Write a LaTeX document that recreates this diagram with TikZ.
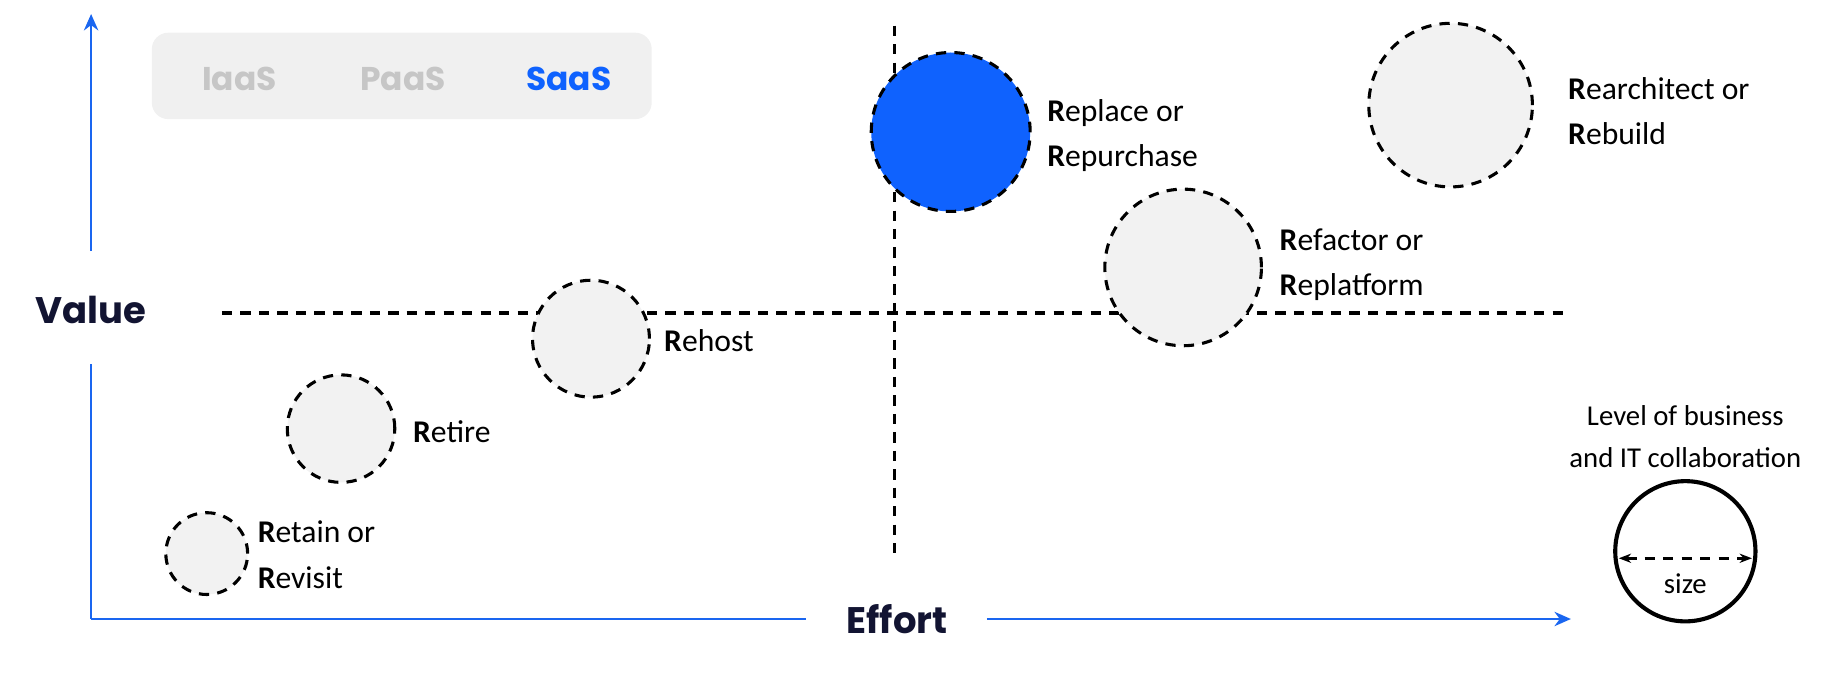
\documentclass[tikz,border=0pt]{standalone}
\usepackage{fontspec}
\setmainfont{Carlito}
\newfontfamily\pop{Poppins}
\usetikzlibrary{arrows.meta}
\definecolor{ax}{HTML}{1A66F0}
\definecolor{bl}{HTML}{0F62FE}
\definecolor{gf}{HTML}{F2F2F2}
\definecolor{nv}{HTML}{121432}
\begin{document}
\begin{tikzpicture}[x=0.01cm,y=-0.01cm,
  bub/.style={circle,draw,dashed,line width=0.75pt,dash pattern=on 2.5pt off 2pt,fill=gf,inner sep=0pt},
  lab/.style={font=\fontsize{7.7}{11}\selectfont,anchor=west,align=left,inner sep=0pt},
  axis/.style={ax,line width=0.6pt,-{Stealth[length=4pt,width=3.5pt]}},
  grid/.style={line width=0.75pt,dash pattern=on 2.5pt off 2pt}]
\useasboundingbox (0,0) rectangle (1560,577);
\fill[gray!12,rounded corners=4pt] (130,28) rectangle (558,102);
\node[font=\pop\bfseries\fontsize{8}{10}\selectfont,text=gray!45] (iaas) at (205,68) {IaaS};
\node[font=\pop\bfseries\fontsize{8}{10}\selectfont,text=gray!45] (paas) at (345,68) {PaaS};
\node[font=\pop\bfseries\fontsize{8}{10}\selectfont,text=bl] (saas) at (487,68) {SaaS};
\node[font=\pop\bfseries\fontsize{9}{11}\selectfont,text=nv] (val) at (78,265) {Value};
\node[font=\pop\bfseries\fontsize{9}{11}\selectfont,text=nv] (eff) at (768,530) {Effort};
\coordinate (o) at (78,530);
\coordinate (top) at (78,12);
\coordinate (rt) at (1345,530);
\draw[ax,line width=0.6pt] (o) -- (78,312);
\draw[axis] (78,215) -- (top);
\draw[ax,line width=0.6pt] (o) -- (690,530);
\draw[axis] (845,530) -- (rt);
\draw[grid] (190,268) -- (1340,268);
\draw[grid] (766,22) -- (766,475);
\node[bub,minimum size=0.70cm] (c1) at (177,474) {};
\node[bub,minimum size=0.92cm] (c2) at (292,367) {};
\node[bub,minimum size=1.00cm] (c3) at (506,290) {};
\node[bub,minimum size=1.36cm,fill=bl] (c4) at (814,113) {};
\node[bub,minimum size=1.34cm] (c5) at (1013,229) {};
\node[bub,minimum size=1.40cm] (c6) at (1242,90) {};
\node[lab] (l1) at (220,475) {\textbf{R}etain or\\\textbf{R}evisit};
\node[lab] (l2) at (353,370) {\textbf{R}etire};
\node[lab] (l3) at (568,292) {\textbf{R}ehost};
\node[lab] (l4) at (896,116) {\textbf{R}eplace or\\\textbf{R}epurchase};
\node[lab] (l5) at (1095,227) {\textbf{R}efactor or\\\textbf{R}eplatform};
\node[lab] (l6) at (1342,95) {\textbf{R}earchitect or\\\textbf{R}ebuild};
\node[font=\fontsize{7}{10.3}\selectfont,align=center,inner sep=0pt] (lg) at (1443,374) {Level of business\\and IT collaboration};
\node[circle,draw,line width=1pt,minimum size=1.20cm,inner sep=0pt] (lc) at (1443,472) {};
\coordinate (a1) at (1386,478);
\coordinate (a2) at (1500,478);
\draw[{Stealth[length=3pt]}-{Stealth[length=3pt]},grid,line width=0.6pt] (a1) -- (a2);
\node[font=\fontsize{7}{9}\selectfont] (sz) at (1443,500) {size};
\end{tikzpicture}
\end{document}
